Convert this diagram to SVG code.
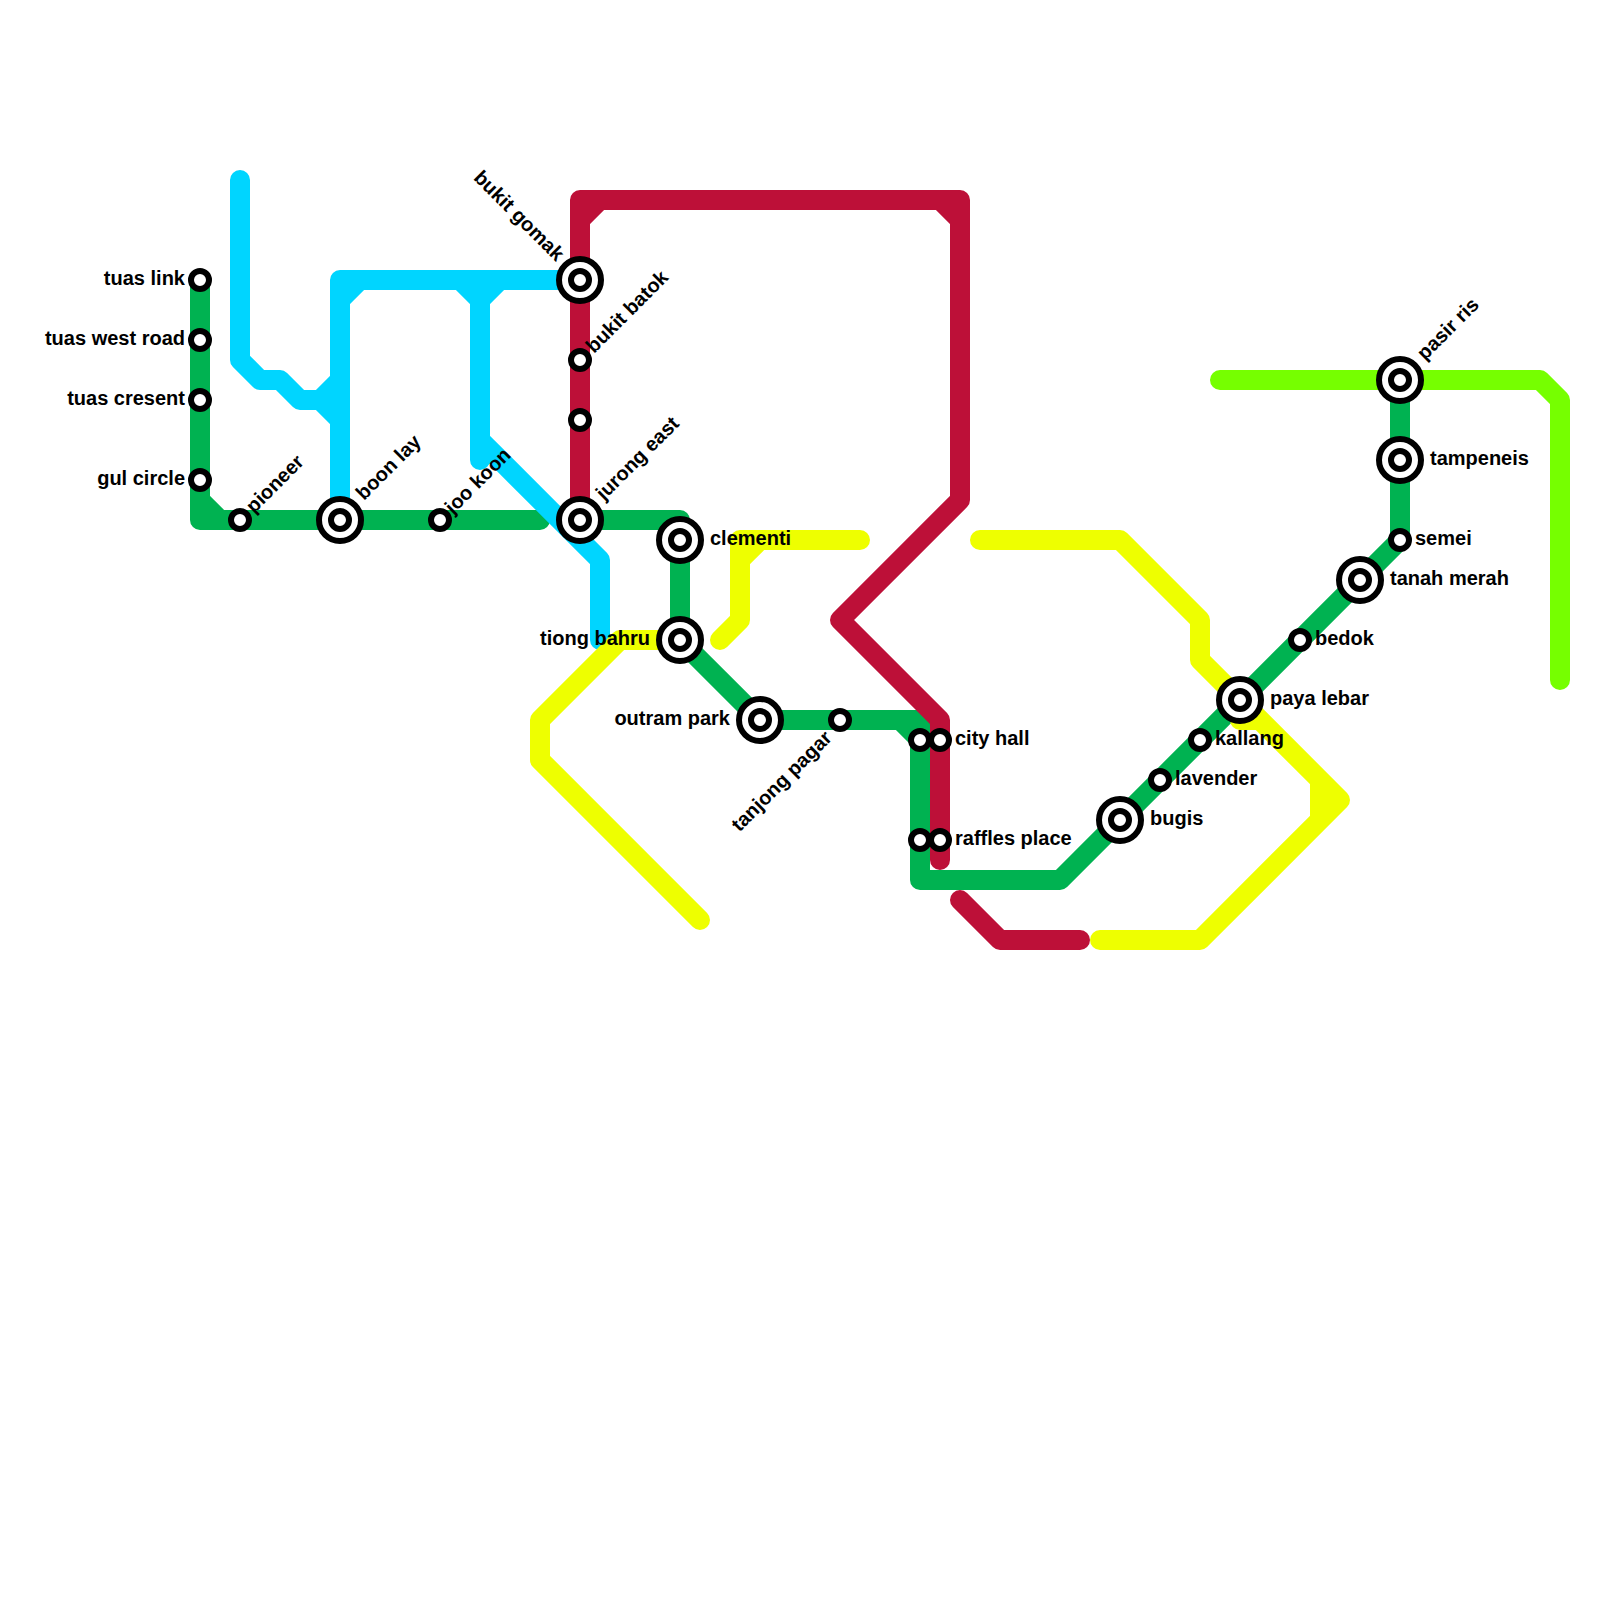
<svg xmlns="http://www.w3.org/2000/svg" width="1600" height="1600" viewBox="0 0 1600 1600">
<style>
.l{fill:none;stroke-width:20;stroke-linecap:round;stroke-linejoin:round}
.g{stroke:#00b251}.r{stroke:#bd1038}.c{stroke:#00d5ff}.y{stroke:#eeff00}.m{stroke:#76ff00}
.o{fill:#fff;stroke:#000;stroke-width:6}
text{font-family:"Liberation Sans",Arial,sans-serif;font-size:20px;font-weight:bold;fill:#000}
.e{text-anchor:end}
</style>
<rect width="1600" height="1600" fill="#fff"/>
<g id="connectors">
<path class="l g" d="M200 280V520H540M200 500L220 520"/>
<path class="l g" d="M580 520H680V640L760 720H920V880H1060L1400 540V380M900 720L920 740"/>
<path class="l r" d="M580 520V200H960V500L840 620L940 720V860M580 220L600 200M940 200L960 220"/>
<path class="l r" d="M960 900L1000 940H1080"/>
<path class="l c" d="M240 180V360L260 380H280L300 400H320M320 400L340 380M320 400L340 420M340 520V280H580M340 300L360 280M460 280L480 300L500 280M480 280V460M480 440L600 560V640"/>
<path class="l y" d="M720 640L740 620V540H860M740 560L760 540"/>
<path class="l y" d="M680 640H620L540 720V760L700 920"/>
<path class="l y" d="M980 540H1120L1200 620V660L1340 800L1200 940H1100M1320 780V820M1240 720H1260"/>
<path class="l m" d="M1220 380H1540L1560 400V680"/>
</g>
<g id="tuas-link"><circle class="o" cx="200" cy="280" r="9"/><text class="e" x="185" y="285">tuas link</text></g>
<g id="tuas-west-road"><circle class="o" cx="200" cy="340" r="9"/><text class="e" x="185" y="345">tuas west road</text></g>
<g id="tuas-cresent"><circle class="o" cx="200" cy="400" r="9"/><text class="e" x="185" y="405">tuas cresent</text></g>
<g id="gul-circle"><circle class="o" cx="200" cy="480" r="9"/><text class="e" x="185" y="485">gul circle</text></g>
<g id="pioneer"><circle class="o" cx="240" cy="520" r="9"/><text transform="translate(254 514) rotate(-45)">pioneer</text></g>
<g id="boon-lay"><circle class="o" cx="340" cy="520" r="21"/><circle class="o" cx="340" cy="520" r="9"/><text transform="translate(364 501) rotate(-45)">boon lay</text></g>
<g id="joo-koon"><circle class="o" cx="440" cy="520" r="9"/><text transform="translate(453 515) rotate(-45)">joo koon</text></g>
<g id="bukit-gomak"><circle class="o" cx="580" cy="280" r="21"/><circle class="o" cx="580" cy="280" r="9"/><text class="e" transform="translate(556 262) rotate(45)">bukit gomak</text></g>
<g id="bukit-batok"><circle class="o" cx="580" cy="360" r="9"/><text transform="translate(594 354) rotate(-45)">bukit batok</text></g>
<g id="unnamed-station"><circle class="o" cx="580" cy="420" r="9"/></g>
<g id="jurong-east"><circle class="o" cx="580" cy="520" r="21"/><circle class="o" cx="580" cy="520" r="9"/><text transform="translate(604 501) rotate(-45)">jurong east</text></g>
<g id="clementi"><circle class="o" cx="680" cy="540" r="21"/><circle class="o" cx="680" cy="540" r="9"/><text x="710" y="545">clementi</text></g>
<g id="tiong-bahru"><circle class="o" cx="680" cy="640" r="21"/><circle class="o" cx="680" cy="640" r="9"/><text class="e" x="650" y="645">tiong bahru</text></g>
<g id="outram-park"><circle class="o" cx="760" cy="720" r="21"/><circle class="o" cx="760" cy="720" r="9"/><text class="e" x="730" y="725">outram park</text></g>
<g id="tanjong-pagar"><circle class="o" cx="840" cy="720" r="9"/><text class="e" transform="translate(833 739) rotate(-45)">tanjong pagar</text></g>
<g id="green-740"><circle class="o" cx="920" cy="740" r="9"/></g>
<g id="city-hall"><circle class="o" cx="940" cy="740" r="9"/><text x="955" y="745">city hall</text></g>
<g id="green-840"><circle class="o" cx="920" cy="840" r="9"/></g>
<g id="raffles-place"><circle class="o" cx="940" cy="840" r="9"/><text x="955" y="845">raffles place</text></g>
<g id="bugis"><circle class="o" cx="1120" cy="820" r="21"/><circle class="o" cx="1120" cy="820" r="9"/><text x="1150" y="825">bugis</text></g>
<g id="lavender"><circle class="o" cx="1160" cy="780" r="9"/><text x="1175" y="785">lavender</text></g>
<g id="kallang"><circle class="o" cx="1200" cy="740" r="9"/><text x="1215" y="745">kallang</text></g>
<g id="paya-lebar"><circle class="o" cx="1240" cy="700" r="21"/><circle class="o" cx="1240" cy="700" r="9"/><text x="1270" y="705">paya lebar</text></g>
<g id="bedok"><circle class="o" cx="1300" cy="640" r="9"/><text x="1315" y="645">bedok</text></g>
<g id="tanah-merah"><circle class="o" cx="1360" cy="580" r="21"/><circle class="o" cx="1360" cy="580" r="9"/><text x="1390" y="585">tanah merah</text></g>
<g id="semei"><circle class="o" cx="1400" cy="540" r="9"/><text x="1415" y="545">semei</text></g>
<g id="tampeneis"><circle class="o" cx="1400" cy="460" r="21"/><circle class="o" cx="1400" cy="460" r="9"/><text x="1430" y="465">tampeneis</text></g>
<g id="pasir-ris"><circle class="o" cx="1400" cy="380" r="21"/><circle class="o" cx="1400" cy="380" r="9"/><text transform="translate(1425 361) rotate(-45)">pasir ris</text></g>
</svg>
